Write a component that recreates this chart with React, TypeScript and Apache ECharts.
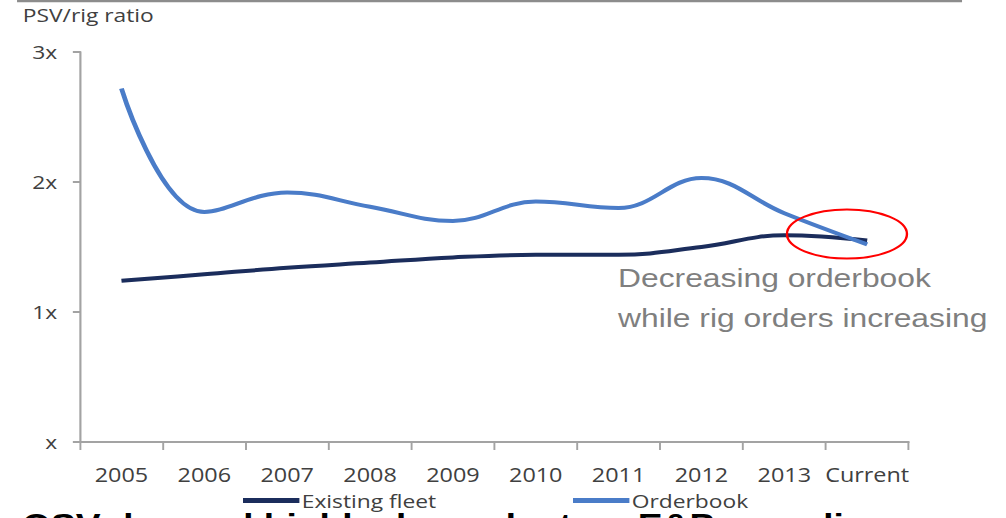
import React, { useEffect, useRef } from "react";
import * as echarts from "echarts";

// Chart data
const categories = ["2005", "2006", "2007", "2008", "2009", "2010", "2011", "2012", "2013", "Current"];
const existingFleet = [1.24, 1.29, 1.34, 1.38, 1.42, 1.44, 1.44, 1.5, 1.59, 1.55];
const orderbook = [2.72, 1.77, 1.92, 1.81, 1.7, 1.85, 1.8, 2.03, 1.76, 1.52];
const yTicks = [0, 1, 2, 3];
const yTickLabels = ["x", "1x", "2x", "3x"];

// The slide artwork is horizontally widened; the chart is laid out in a
// narrower box and stretched back to the full width.
const S = 1.2;
const W = 1006 / S;
const H = 518;

const LABEL_FONT = '"Open Sans", "DejaVu Sans", sans-serif';
const NOTE_FONT = '"Liberation Sans", Arial, sans-serif';

export default function App() {
  const ref = useRef<HTMLDivElement>(null);

  useEffect(() => {
    if (!ref.current) return;
    const chart = echarts.init(ref.current, null, { renderer: "svg" });

    const legendBase = {
      top: 486,
      icon: "rect",
      itemWidth: 47,
      itemHeight: 5,
      selectedMode: false,
      textStyle: { color: "#404040", fontSize: 19, fontFamily: LABEL_FONT, padding: [0, 0, 0, -3] },
    };

    chart.setOption({
      animation: false,
      grid: { left: 66.7, right: W - 757.5, top: 52, bottom: H - 442, containLabel: false },
      legend: [
        { ...legendBase, data: ["Existing fleet"], left: 197.5 },
        { ...legendBase, data: ["Orderbook"], left: 472.5 },
      ],
      xAxis: {
        type: "category",
        data: categories,
        boundaryGap: true,
        axisLine: { lineStyle: { color: "#a3a3a3", width: 2 } },
        axisTick: { show: true, length: 8, alignWithLabel: false, lineStyle: { color: "#a3a3a3", width: 1.6 } },
        axisLabel: { color: "#404040", fontSize: 19.5, fontFamily: LABEL_FONT, margin: 22, interval: 0 },
        splitLine: { show: false },
      },
      yAxis: {
        type: "value",
        min: yTicks[0],
        max: yTicks[yTicks.length - 1],
        interval: 1,
        axisLine: { show: true, lineStyle: { color: "#a3a3a3", width: 1.8 } },
        axisTick: { show: true, length: 6, lineStyle: { color: "#a3a3a3", width: 2 } },
        axisLabel: {
          color: "#404040",
          fontSize: 19,
          fontFamily: LABEL_FONT,
          margin: 19,
          formatter: (v: number) => yTickLabels[yTicks.indexOf(v)] ?? "",
        },
        splitLine: { show: false },
      },
      series: [
        {
          name: "Existing fleet",
          type: "line",
          data: existingFleet,
          smooth: 0.4,
          showSymbol: false,
          symbol: "none",
          lineStyle: { color: "#1b2d5c", width: 4 },
          itemStyle: { color: "#1b2d5c" },
          z: 2,
        },
        {
          name: "Orderbook",
          type: "line",
          data: orderbook,
          smooth: 0.4,
          showSymbol: false,
          symbol: "none",
          lineStyle: { color: "#4a7cc8", width: 4 },
          itemStyle: { color: "#4a7cc8" },
          z: 3,
        },
      ],
      graphic: [
        {
          type: "line",
          shape: { x1: 14.2, y1: 1, x2: 801.7, y2: 1 },
          style: { stroke: "#8c8c8c", lineWidth: 2.5 },
        },
        {
          type: "text",
          x: 19,
          y: 15,
          style: {
            text: "PSV/rig ratio",
            fill: "#404040",
            font: `19px ${LABEL_FONT}`,
            verticalAlign: "middle",
            align: "left",
          },
        },
        {
          type: "ellipse",
          shape: { cx: 705.8, cy: 234, rx: 50, ry: 24.5 },
          style: { fill: "none", stroke: "#ff0000", lineWidth: 2 },
          z: 10,
        },
        {
          type: "text",
          x: 515,
          y: 277.5,
          style: {
            text: "Decreasing orderbook",
            fill: "#7f7f7f",
            font: `26.5px ${NOTE_FONT}`,
            verticalAlign: "middle",
            align: "left",
          },
        },
        {
          type: "text",
          x: 515,
          y: 317.5,
          style: {
            text: "while rig orders increasing",
            fill: "#7f7f7f",
            font: `26.5px ${NOTE_FONT}`,
            verticalAlign: "middle",
            align: "left",
          },
        },
        {
          type: "text",
          x: 18.3,
          y: 525,
          style: {
            text: "OSV demand highly dependent on E&P spending",
            fill: "#000000",
            font: `bold 31px ${NOTE_FONT}`,
            verticalAlign: "middle",
            align: "left",
          },
        },
      ],
    });

    return () => chart.dispose();
  }, []);

  return (
    <div
      ref={ref}
      style={{
        position: "absolute",
        left: 0,
        top: 0,
        width: W,
        height: H,
        transform: `scaleX(${S})`,
        transformOrigin: "0 0",
        background: "#ffffff",
      }}
    />
  );
}
